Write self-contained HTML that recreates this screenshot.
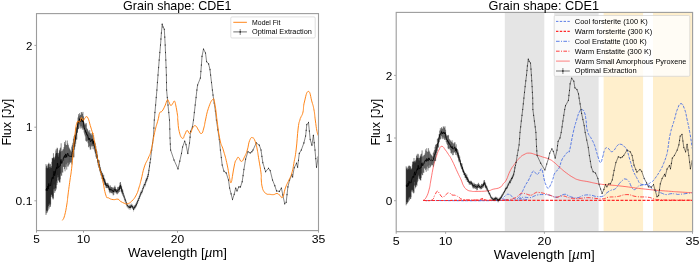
<!DOCTYPE html>
<html><head><meta charset="utf-8"><title>Grain shape: CDE1</title>
<style>html,body{margin:0;padding:0;background:#fff}body{width:700px;height:262px;overflow:hidden;font-family:"Liberation Sans",sans-serif}svg{display:block;will-change:transform;transform:translateZ(0)}</style>
</head><body>
<svg width="700" height="262" viewBox="0 0 700 262" font-family="Liberation Sans, sans-serif" fill="#000">
<rect width="700" height="262" fill="#fff"/>
<defs><clipPath id="cl"><rect x="36.5" y="13.6" width="282" height="217"/></clipPath><clipPath id="cr"><rect x="396.2" y="12.4" width="296.4" height="219.3"/></clipPath></defs>
<rect x="504.8" y="12.4" width="39.5" height="219.3" fill="#e5e5e5"/>
<rect x="554.2" y="12.4" width="44.4" height="219.3" fill="#e5e5e5"/>
<rect x="603.6" y="12.4" width="39.5" height="219.3" fill="#ffefcc"/>
<rect x="653.0" y="12.4" width="39.5" height="219.3" fill="#ffefcc"/>
<g clip-path="url(#cl)">
<path d="M46.00 164.1V215.0M46.31 167.8V213.3M46.62 165.6V210.6M46.93 166.3V210.8M47.24 168.7V212.7M47.55 167.9V211.4M47.86 164.5V207.5M48.17 167.7V210.3M48.48 164.0V206.0M48.79 162.7V204.2M49.10 163.7V208.7M49.41 166.9V204.8M49.72 168.7V203.2M50.03 164.5V207.0M50.34 163.9V206.6M50.65 166.9V204.5M50.96 168.1V197.1M51.27 168.0V195.3M51.58 166.2V194.3M51.89 161.8V195.1M52.20 157.9V197.1M52.51 158.3V198.4M52.82 158.8V196.1M53.13 157.8V199.5M53.44 153.2V198.4M53.75 157.0V189.4M54.06 158.0V184.5M54.37 159.8V188.8M54.68 158.5V192.9M54.99 156.9V190.8M55.30 155.7V191.2M55.61 153.6V188.2M55.92 150.5V188.1M56.23 148.9V189.5M56.54 152.8V181.4M56.85 153.0V185.0M57.16 147.7V183.1M57.47 148.4V177.5M57.78 153.3V175.2M58.09 155.4V180.1M58.40 156.9V177.2M58.71 152.9V180.9M59.02 153.4V179.8M59.33 150.1V182.4M59.64 151.3V181.8M59.95 148.5V182.6M60.26 151.7V179.3M60.57 147.6V173.6M61.13 143.3V175.6M61.69 151.2V175.7M62.25 150.9V172.4M62.81 149.5V172.6M63.37 149.2V166.8M63.93 147.2V167.0M64.49 142.1V169.1M65.05 144.2V171.3M65.61 140.5V167.2M66.17 145.1V164.4M66.73 145.0V169.6M67.29 140.5V166.6M67.85 143.5V162.8M68.41 145.2V166.5M68.97 147.4V165.1M69.53 148.5V163.8M70.09 149.5V162.0M70.65 150.5V162.8M71.21 151.5V162.4M71.77 146.6V164.5M72.33 144.8V160.2M72.89 142.8V157.5M73.45 138.7V157.1M74.01 136.3V157.3M74.57 134.9V149.7M75.13 134.8V146.5M75.69 128.4V143.8M76.25 127.5V139.6M76.81 126.6V139.5M77.37 122.0V132.5M77.93 117.5V129.0M78.49 114.2V129.2M79.05 116.2V128.3M79.61 113.1V124.4M80.17 114.6V126.5M80.73 115.1V128.6M81.29 112.0V126.4M81.85 112.4V128.2M82.41 113.8V129.7M82.97 111.9V127.5M83.53 116.3V129.6M84.09 122.4V132.5M84.65 124.5V134.5M85.21 123.4V136.4M85.77 124.5V140.7M86.33 123.1V141.2M86.89 128.2V141.9M87.45 129.0V140.7M88.01 130.2V143.3M88.57 131.4V146.9M89.13 132.5V147.5M89.69 130.2V145.9M90.25 133.2V149.6M90.81 133.9V149.4M91.37 135.2V146.5M91.93 133.1V145.4M92.49 132.8V146.3M93.05 138.2V149.1M93.61 135.3V146.2M94.17 141.4V149.6M94.73 141.6V151.5M95.29 143.3V153.4M95.85 146.1V156.7M96.41 149.5V158.9M96.97 151.3V158.0M97.53 156.4V161.3M98.09 159.7V165.3M98.65 160.2V167.5M99.21 160.4V168.2M99.77 165.4V171.4M100.33 167.3V172.5M100.89 169.6V175.4M101.45 171.1V175.8M102.01 172.7V179.1M102.57 172.9V179.2M103.13 175.2V182.4M103.69 174.7V181.1M104.25 178.5V184.6M104.81 179.0V184.8M105.37 180.5V185.3M105.93 183.5V187.8M106.49 182.9V187.8M107.05 183.4V188.2M107.61 182.8V188.1M108.17 183.5V187.8M108.73 184.8V189.9M109.29 185.8V191.9M109.85 187.4V193.3M110.41 185.4V192.3M110.97 186.8V192.8M111.53 187.1V192.9M112.09 187.3V193.5M112.65 187.5V193.3M113.21 188.5V195.4M113.77 187.5V194.9M114.33 186.8V192.5M114.89 185.6V192.2M115.45 187.2V192.2M116.01 189.2V193.3M116.57 189.3V193.4M117.13 188.9V194.4M117.69 187.2V193.7M118.25 186.7V193.1M118.81 187.2V192.1M119.37 187.5V191.9M119.93 182.6V188.7M120.49 182.0V189.0M121.05 184.5V191.6M121.61 186.3V192.6M122.17 188.8V194.1M122.73 189.7V195.6" stroke="#000" stroke-opacity=".9" stroke-width=".52" fill="none"/>
<path d="M46.0 189.6 L46.3 190.5 L46.6 188.1 L46.9 188.6 L47.2 190.7 L47.6 189.7 L47.9 186.0 L48.2 189.0 L48.5 185.0 L48.8 183.5 L49.1 186.2 L49.4 185.9 L49.7 186.0 L50.0 185.7 L50.3 185.3 L50.7 185.7 L51.0 182.6 L51.3 181.6 L51.6 180.2 L51.9 178.4 L52.2 177.5 L52.5 178.3 L52.8 177.5 L53.1 178.6 L53.4 175.8 L53.8 173.2 L54.1 171.2 L54.4 174.3 L54.7 175.7 L55.0 173.9 L55.3 173.5 L55.6 170.9 L55.9 169.3 L56.2 169.2 L56.5 167.1 L56.9 169.0 L57.2 165.4 L57.5 163.0 L57.8 164.3 L58.1 167.7 L58.4 167.0 L58.7 166.9 L59.0 166.6 L59.3 166.3 L59.6 166.5 L60.0 165.5 L60.3 165.5 L60.6 160.6 L61.1 159.5 L61.7 163.5 L62.3 161.6 L62.8 161.1 L63.4 158.0 L63.9 157.1 L64.5 155.6 L65.1 157.8 L65.6 153.9 L66.2 154.8 L66.7 157.3 L67.3 153.6 L67.9 153.2 L68.4 155.8 L69.0 156.2 L69.5 156.2 L70.1 155.8 L70.7 156.6 L71.2 157.0 L71.8 155.5 L72.3 152.5 L72.9 150.2 L73.5 147.9 L74.0 146.8 L74.6 142.3 L75.1 140.7 L75.7 136.1 L76.3 133.6 L76.8 133.0 L77.4 127.3 L77.9 123.2 L78.5 121.7 L79.1 122.3 L79.6 118.7 L80.2 120.6 L80.7 121.8 L81.3 119.2 L81.9 120.3 L82.4 121.8 L83.0 119.7 L83.5 123.0 L84.1 127.4 L84.7 129.5 L85.2 129.9 L85.8 132.6 L86.3 132.2 L86.9 135.1 L87.5 134.9 L88.0 136.7 L88.6 139.1 L89.1 140.0 L89.7 138.1 L90.3 141.4 L90.8 141.7 L91.4 140.8 L91.9 139.2 L92.5 139.5 L93.1 143.7 L93.6 140.8 L94.2 145.5 L94.7 146.6 L95.3 148.3 L95.9 151.4 L96.4 154.2 L97.0 154.6 L97.5 158.9 L98.1 162.5 L98.7 163.8 L99.2 164.3 L99.8 168.4 L100.3 169.9 L100.9 172.5 L101.5 173.4 L102.0 175.9 L102.6 176.1 L103.1 178.8 L103.7 177.9 L104.3 181.6 L104.8 181.9 L105.4 182.9 L105.9 185.6 L106.5 185.4 L107.1 185.8 L107.6 185.5 L108.2 185.7 L108.7 187.3 L109.3 188.8 L109.9 190.4 L110.4 188.9 L111.0 189.8 L111.5 190.0 L112.1 190.4 L112.7 190.4 L113.2 192.0 L113.8 191.2 L114.3 189.7 L114.9 188.9 L115.5 189.7 L116.0 191.3 L116.6 191.4 L117.1 191.6 L117.7 190.5 L118.3 189.9 L118.8 189.6 L119.4 189.7 L119.9 185.6 L120.5 185.5 L121.1 188.0 L121.6 189.4 L122.2 191.5 L122.7 192.6" stroke="#000" stroke-width=".9" fill="none" stroke-linejoin="round"/>
<path d="M123.2 193.5 L123.8 196.1 L124.3 197.0 L124.9 199.8 L125.5 200.0 L126.2 202.7 L126.8 205.0 L127.5 205.6 L128.2 206.5 L128.8 207.1 L129.5 207.5 L130.0 206.2 L130.5 207.6 L131.0 205.8 L131.5 205.8 L132.0 206.5 L132.5 206.8 L133.0 207.2 L133.5 209.4 L134.0 208.0 L134.5 207.2 L135.0 207.1 L135.5 206.0 L136.0 205.2 L136.5 204.5 L137.0 203.1 L137.5 201.7 L138.2 200.4 L138.9 198.5 L139.6 196.8 L140.3 194.9 L140.9 192.9 L141.6 192.5 L142.2 191.2 L142.9 188.5 L143.6 187.3 L144.3 184.5 L145.0 184.9 L145.7 182.2 L146.2 180.0 L146.7 179.7 L147.2 178.5 L147.8 176.4 L148.3 174.4 L148.9 170.6 L149.5 166.1 L150.0 162.7 L150.6 159.0 L151.7 150.0 L153.5 136.0 L154.3 120.0 L155.6 105.0 L156.9 90.0 L158.0 75.0 L159.2 60.0 L160.5 45.0 L161.4 33.0 L162.2 24.2 L163.0 27.0 L164.3 29.3 L165.2 45.0 L165.8 60.0 L166.4 75.0 L166.6 90.0 L168.0 105.0 L169.5 120.0 L170.0 138.0 L170.6 150.0 L174.0 160.0 L178.0 168.9 L181.5 153.4 L182.6 147.0 L184.7 141.2 L186.0 144.6 L187.8 153.4 L189.5 143.0 L190.6 131.4 L192.4 127.0 L193.5 120.0 L195.2 105.0 L196.9 90.0 L197.6 85.0 L200.4 78.0 L201.4 65.0 L202.0 56.4 L203.5 49.0 L205.5 53.0 L206.6 61.6 L208.6 63.9 L210.0 69.6 L210.6 75.0 L212.4 90.0 L213.0 95.0 L215.4 111.0 L216.4 120.0 L219.3 139.5 L220.4 150.0 L222.2 165.0 L223.9 171.2 L226.2 172.9 L228.5 180.0 L229.6 188.0 L232.5 199.5 L234.2 194.3 L235.7 188.0 L237.0 190.9 L238.8 186.9 L240.5 186.9 L242.2 181.7 L243.9 169.5 L245.6 159.2 L247.9 151.7 L250.2 152.9 L251.9 151.7 L253.0 150.0 L256.3 142.9 L259.3 145.2 L261.0 150.0 L262.8 162.6 L264.5 168.3 L265.6 171.7 L268.5 168.3 L270.2 170.6 L272.5 180.0 L274.8 185.7 L276.5 190.9 L279.4 191.4 L281.4 188.0 L282.8 194.9 L284.7 203.8 L286.2 202.3 L287.9 186.9 L289.6 180.0 L291.9 174.6 L292.6 177.0 L294.2 167.7 L296.5 163.2 L297.6 167.2 L299.3 153.4 L301.3 150.0 L303.9 142.9 L305.6 136.0 L306.8 124.6 L308.5 122.5 L310.2 139.5 L311.9 145.2 L313.4 135.4 L315.0 150.0 L316.5 167.2 L318.2 156.9" stroke="#222" stroke-width=".55" fill="none" stroke-linejoin="round"/>
<path d="M123.2 191.3V195.7M123.8 193.9V198.3M124.3 194.8V199.2M124.9 197.6V202.0M125.5 197.8V202.2M126.2 200.5V204.9M126.8 202.8V207.2M127.5 203.4V207.8M128.2 204.3V208.7M128.8 204.9V209.3M129.5 205.3V209.7M130.0 204.0V208.4M130.5 205.4V209.8M131.0 203.6V208.0M131.5 203.6V208.0M132.0 204.3V208.7M132.5 204.6V209.0M133.0 205.0V209.4M133.5 207.2V211.6M134.0 205.8V210.2M134.5 205.0V209.4M135.0 204.9V209.3M135.5 203.8V208.2M136.0 203.0V207.4M136.5 202.3V206.7M137.0 200.9V205.3M137.5 199.5V203.9M138.2 198.2V202.6M138.9 196.3V200.7M139.6 194.6V199.0M140.3 192.7V197.1M140.9 190.7V195.1M141.6 190.3V194.7M142.2 189.0V193.4M142.9 186.3V190.7M143.6 185.1V189.5M144.3 182.3V186.7M145.0 182.7V187.1M145.7 180.0V184.4M146.2 177.8V182.2M146.7 177.5V181.9M147.2 176.3V180.7M147.8 174.2V178.6M148.3 172.2V176.6M148.9 168.4V172.8M149.5 163.9V168.3M150.0 161.8V163.6M150.6 158.1V159.9M151.7 149.1V150.9M152.6 142.1V143.9M153.5 135.1V136.9M153.9 127.1V128.9M154.3 119.1V120.9M154.9 111.6V113.4M155.6 104.1V105.9M156.2 96.6V98.4M156.9 89.1V90.9M157.4 81.6V83.4M158.0 74.1V75.9M158.6 66.6V68.4M159.2 59.1V60.9M159.8 51.6V53.4M160.5 44.1V45.9M160.9 38.1V39.9M161.4 32.1V33.9M162.2 23.3V25.1M163.0 26.1V27.9M164.3 28.4V30.2M164.8 36.2V38.0M165.2 44.1V45.9M165.5 51.6V53.4M165.8 59.1V60.9M166.1 66.6V68.4M166.4 74.1V75.9M166.5 81.6V83.4M166.6 89.1V90.9M167.3 96.6V98.4M168.0 104.1V105.9M168.8 111.6V113.4M169.5 119.1V120.9M169.8 128.1V129.9M170.0 137.1V138.9M170.3 143.1V144.9M170.6 149.1V150.9M174.0 159.1V160.9M178.0 168.0V169.8M179.8 160.2V162.1M181.5 152.5V154.3M182.6 146.1V147.9M184.7 140.3V142.1M186.0 143.7V145.5M187.8 152.5V154.3M189.5 142.1V143.9M190.1 136.3V138.1M190.6 130.5V132.3M192.4 126.1V127.9M193.5 119.1V120.9M194.3 111.6V113.4M195.2 104.1V105.9M196.1 96.6V98.4M196.9 89.1V90.9M197.6 84.1V85.9M200.4 77.1V78.9M200.9 70.6V72.4M201.4 64.1V65.9M202.0 55.5V57.3M203.5 48.1V49.9M205.5 52.1V53.9M206.6 60.7V62.5M208.6 63.0V64.8M210.0 68.7V70.5M210.6 74.1V75.9M211.5 81.6V83.4M212.4 89.1V90.9M213.0 94.1V95.9M214.2 102.1V103.9M215.4 110.1V111.9M216.4 119.1V120.9M217.9 128.8V130.7M219.3 138.6V140.4M220.4 149.1V150.9M221.3 156.6V158.4M222.2 164.1V165.9M223.9 170.3V172.1M226.2 172.0V173.8M228.5 179.1V180.9M229.6 187.1V188.9M231.1 192.8V194.7M232.5 198.6V200.4M234.2 193.4V195.2M235.7 187.1V188.9M237.0 190.0V191.8M238.8 186.0V187.8M240.5 186.0V187.8M242.2 180.8V182.6M243.1 174.7V176.5M243.9 168.6V170.4M245.6 158.3V160.1M247.9 150.8V152.6M250.2 152.0V153.8M251.9 150.8V152.6M253.0 149.1V150.9M256.3 142.0V143.8M259.3 144.3V146.1M261.0 149.1V150.9M261.9 155.4V157.2M262.8 161.7V163.5M264.5 167.4V169.2M265.6 170.8V172.6M268.5 167.4V169.2M270.2 169.7V171.5M272.5 179.1V180.9M274.8 184.8V186.6M276.5 190.0V191.8M279.4 190.5V192.3M281.4 187.1V188.9M282.8 194.0V195.8M284.7 202.9V204.7M286.2 201.4V203.2M287.0 193.7V195.5M287.9 186.0V187.8M289.6 179.1V180.9M291.9 173.7V175.5M292.6 176.1V177.9M294.2 166.8V168.6M296.5 162.3V164.1M297.6 166.3V168.1M298.5 159.4V161.2M299.3 152.5V154.3M301.3 149.1V150.9M303.9 142.0V143.8M305.6 135.1V136.9M306.2 129.4V131.2M306.8 123.7V125.5M308.5 121.6V123.4M309.4 130.1V131.9M310.2 138.6V140.4M311.9 144.3V146.1M313.4 134.5V136.3M314.2 141.8V143.6M315.0 149.1V150.9M315.8 157.7V159.5M316.5 166.3V168.1M318.2 156.0V157.8" stroke="#000" stroke-opacity=".5" stroke-width=".45" fill="none"/>
<g fill="#000" fill-opacity=".65"><circle cx="123.2" cy="193.5" r=".58"/><circle cx="123.8" cy="196.1" r=".58"/><circle cx="124.3" cy="197.0" r=".58"/><circle cx="124.9" cy="199.8" r=".58"/><circle cx="125.5" cy="200.0" r=".58"/><circle cx="126.2" cy="202.7" r=".58"/><circle cx="126.8" cy="205.0" r=".58"/><circle cx="127.5" cy="205.6" r=".58"/><circle cx="128.2" cy="206.5" r=".58"/><circle cx="128.8" cy="207.1" r=".58"/><circle cx="129.5" cy="207.5" r=".58"/><circle cx="130.0" cy="206.2" r=".58"/><circle cx="130.5" cy="207.6" r=".58"/><circle cx="131.0" cy="205.8" r=".58"/><circle cx="131.5" cy="205.8" r=".58"/><circle cx="132.0" cy="206.5" r=".58"/><circle cx="132.5" cy="206.8" r=".58"/><circle cx="133.0" cy="207.2" r=".58"/><circle cx="133.5" cy="209.4" r=".58"/><circle cx="134.0" cy="208.0" r=".58"/><circle cx="134.5" cy="207.2" r=".58"/><circle cx="135.0" cy="207.1" r=".58"/><circle cx="135.5" cy="206.0" r=".58"/><circle cx="136.0" cy="205.2" r=".58"/><circle cx="136.5" cy="204.5" r=".58"/><circle cx="137.0" cy="203.1" r=".58"/><circle cx="137.5" cy="201.7" r=".58"/><circle cx="138.2" cy="200.4" r=".58"/><circle cx="138.9" cy="198.5" r=".58"/><circle cx="139.6" cy="196.8" r=".58"/><circle cx="140.3" cy="194.9" r=".58"/><circle cx="140.9" cy="192.9" r=".58"/><circle cx="141.6" cy="192.5" r=".58"/><circle cx="142.2" cy="191.2" r=".58"/><circle cx="142.9" cy="188.5" r=".58"/><circle cx="143.6" cy="187.3" r=".58"/><circle cx="144.3" cy="184.5" r=".58"/><circle cx="145.0" cy="184.9" r=".58"/><circle cx="145.7" cy="182.2" r=".58"/><circle cx="146.2" cy="180.0" r=".58"/><circle cx="146.7" cy="179.7" r=".58"/><circle cx="147.2" cy="178.5" r=".58"/><circle cx="147.8" cy="176.4" r=".58"/><circle cx="148.3" cy="174.4" r=".58"/><circle cx="148.9" cy="170.6" r=".58"/><circle cx="149.5" cy="166.1" r=".58"/><circle cx="150.0" cy="162.7" r=".58"/><circle cx="150.6" cy="159.0" r=".58"/><circle cx="151.7" cy="150.0" r=".58"/><circle cx="152.6" cy="143.0" r=".58"/><circle cx="153.5" cy="136.0" r=".58"/><circle cx="153.9" cy="128.0" r=".58"/><circle cx="154.3" cy="120.0" r=".58"/><circle cx="154.9" cy="112.5" r=".58"/><circle cx="155.6" cy="105.0" r=".58"/><circle cx="156.2" cy="97.5" r=".58"/><circle cx="156.9" cy="90.0" r=".58"/><circle cx="157.4" cy="82.5" r=".58"/><circle cx="158.0" cy="75.0" r=".58"/><circle cx="158.6" cy="67.5" r=".58"/><circle cx="159.2" cy="60.0" r=".58"/><circle cx="159.8" cy="52.5" r=".58"/><circle cx="160.5" cy="45.0" r=".58"/><circle cx="160.9" cy="39.0" r=".58"/><circle cx="161.4" cy="33.0" r=".58"/><circle cx="162.2" cy="24.2" r=".58"/><circle cx="163.0" cy="27.0" r=".58"/><circle cx="164.3" cy="29.3" r=".58"/><circle cx="164.8" cy="37.1" r=".58"/><circle cx="165.2" cy="45.0" r=".58"/><circle cx="165.5" cy="52.5" r=".58"/><circle cx="165.8" cy="60.0" r=".58"/><circle cx="166.1" cy="67.5" r=".58"/><circle cx="166.4" cy="75.0" r=".58"/><circle cx="166.5" cy="82.5" r=".58"/><circle cx="166.6" cy="90.0" r=".58"/><circle cx="167.3" cy="97.5" r=".58"/><circle cx="168.0" cy="105.0" r=".58"/><circle cx="168.8" cy="112.5" r=".58"/><circle cx="169.5" cy="120.0" r=".58"/><circle cx="169.8" cy="129.0" r=".58"/><circle cx="170.0" cy="138.0" r=".58"/><circle cx="170.3" cy="144.0" r=".58"/><circle cx="170.6" cy="150.0" r=".58"/><circle cx="174.0" cy="160.0" r=".58"/><circle cx="178.0" cy="168.9" r=".58"/><circle cx="179.8" cy="161.2" r=".58"/><circle cx="181.5" cy="153.4" r=".58"/><circle cx="182.6" cy="147.0" r=".58"/><circle cx="184.7" cy="141.2" r=".58"/><circle cx="186.0" cy="144.6" r=".58"/><circle cx="187.8" cy="153.4" r=".58"/><circle cx="189.5" cy="143.0" r=".58"/><circle cx="190.1" cy="137.2" r=".58"/><circle cx="190.6" cy="131.4" r=".58"/><circle cx="192.4" cy="127.0" r=".58"/><circle cx="193.5" cy="120.0" r=".58"/><circle cx="194.3" cy="112.5" r=".58"/><circle cx="195.2" cy="105.0" r=".58"/><circle cx="196.1" cy="97.5" r=".58"/><circle cx="196.9" cy="90.0" r=".58"/><circle cx="197.6" cy="85.0" r=".58"/><circle cx="200.4" cy="78.0" r=".58"/><circle cx="200.9" cy="71.5" r=".58"/><circle cx="201.4" cy="65.0" r=".58"/><circle cx="202.0" cy="56.4" r=".58"/><circle cx="203.5" cy="49.0" r=".58"/><circle cx="205.5" cy="53.0" r=".58"/><circle cx="206.6" cy="61.6" r=".58"/><circle cx="208.6" cy="63.9" r=".58"/><circle cx="210.0" cy="69.6" r=".58"/><circle cx="210.6" cy="75.0" r=".58"/><circle cx="211.5" cy="82.5" r=".58"/><circle cx="212.4" cy="90.0" r=".58"/><circle cx="213.0" cy="95.0" r=".58"/><circle cx="214.2" cy="103.0" r=".58"/><circle cx="215.4" cy="111.0" r=".58"/><circle cx="216.4" cy="120.0" r=".58"/><circle cx="217.9" cy="129.8" r=".58"/><circle cx="219.3" cy="139.5" r=".58"/><circle cx="220.4" cy="150.0" r=".58"/><circle cx="221.3" cy="157.5" r=".58"/><circle cx="222.2" cy="165.0" r=".58"/><circle cx="223.9" cy="171.2" r=".58"/><circle cx="226.2" cy="172.9" r=".58"/><circle cx="228.5" cy="180.0" r=".58"/><circle cx="229.6" cy="188.0" r=".58"/><circle cx="231.1" cy="193.8" r=".58"/><circle cx="232.5" cy="199.5" r=".58"/><circle cx="234.2" cy="194.3" r=".58"/><circle cx="235.7" cy="188.0" r=".58"/><circle cx="237.0" cy="190.9" r=".58"/><circle cx="238.8" cy="186.9" r=".58"/><circle cx="240.5" cy="186.9" r=".58"/><circle cx="242.2" cy="181.7" r=".58"/><circle cx="243.1" cy="175.6" r=".58"/><circle cx="243.9" cy="169.5" r=".58"/><circle cx="245.6" cy="159.2" r=".58"/><circle cx="247.9" cy="151.7" r=".58"/><circle cx="250.2" cy="152.9" r=".58"/><circle cx="251.9" cy="151.7" r=".58"/><circle cx="253.0" cy="150.0" r=".58"/><circle cx="256.3" cy="142.9" r=".58"/><circle cx="259.3" cy="145.2" r=".58"/><circle cx="261.0" cy="150.0" r=".58"/><circle cx="261.9" cy="156.3" r=".58"/><circle cx="262.8" cy="162.6" r=".58"/><circle cx="264.5" cy="168.3" r=".58"/><circle cx="265.6" cy="171.7" r=".58"/><circle cx="268.5" cy="168.3" r=".58"/><circle cx="270.2" cy="170.6" r=".58"/><circle cx="272.5" cy="180.0" r=".58"/><circle cx="274.8" cy="185.7" r=".58"/><circle cx="276.5" cy="190.9" r=".58"/><circle cx="279.4" cy="191.4" r=".58"/><circle cx="281.4" cy="188.0" r=".58"/><circle cx="282.8" cy="194.9" r=".58"/><circle cx="284.7" cy="203.8" r=".58"/><circle cx="286.2" cy="202.3" r=".58"/><circle cx="287.0" cy="194.6" r=".58"/><circle cx="287.9" cy="186.9" r=".58"/><circle cx="289.6" cy="180.0" r=".58"/><circle cx="291.9" cy="174.6" r=".58"/><circle cx="292.6" cy="177.0" r=".58"/><circle cx="294.2" cy="167.7" r=".58"/><circle cx="296.5" cy="163.2" r=".58"/><circle cx="297.6" cy="167.2" r=".58"/><circle cx="298.5" cy="160.3" r=".58"/><circle cx="299.3" cy="153.4" r=".58"/><circle cx="301.3" cy="150.0" r=".58"/><circle cx="303.9" cy="142.9" r=".58"/><circle cx="305.6" cy="136.0" r=".58"/><circle cx="306.2" cy="130.3" r=".58"/><circle cx="306.8" cy="124.6" r=".58"/><circle cx="308.5" cy="122.5" r=".58"/><circle cx="309.4" cy="131.0" r=".58"/><circle cx="310.2" cy="139.5" r=".58"/><circle cx="311.9" cy="145.2" r=".58"/><circle cx="313.4" cy="135.4" r=".58"/><circle cx="314.2" cy="142.7" r=".58"/><circle cx="315.0" cy="150.0" r=".58"/><circle cx="315.8" cy="158.6" r=".58"/><circle cx="316.5" cy="167.2" r=".58"/><circle cx="318.2" cy="156.9" r=".58"/></g>
<path d="M62.3 220.4C62.9 219.1 63.4 220.0 64.6 215.6C65.8 211.2 66.0 209.5 66.9 204.0C67.8 198.5 67.2 201.4 68.0 195.0C68.8 188.6 68.9 188.0 70.0 180.0C71.1 172.0 70.7 177.0 72.0 165.0C73.3 153.0 73.5 146.4 74.9 135.0C76.3 123.6 76.0 125.6 77.2 122.2C78.4 118.8 78.4 123.4 79.5 122.2C80.6 121.0 80.4 118.1 81.4 117.6C82.4 117.1 82.0 120.6 83.2 120.4C84.4 120.2 84.5 117.6 85.8 117.0C87.1 116.4 86.8 115.9 88.0 118.2C89.2 120.5 89.1 121.7 90.3 125.6C91.5 129.5 91.8 130.5 92.6 133.0C93.4 135.5 92.3 130.5 93.2 135.0C94.1 139.5 94.5 142.0 96.0 150.0C97.5 158.0 97.2 157.3 98.9 165.0C100.6 172.7 100.6 170.7 102.4 178.7C104.2 186.7 104.1 189.9 105.8 195.0C107.5 200.1 106.6 196.7 108.6 197.9C110.6 199.1 110.7 199.3 113.2 199.6C115.7 199.9 116.1 198.8 118.0 199.2C119.9 199.6 118.5 200.1 120.3 201.2C122.1 202.3 123.1 202.8 124.9 203.5C126.7 204.2 125.4 204.4 127.2 203.8C129.0 203.2 129.3 203.6 131.7 201.2C134.1 198.8 134.3 198.7 136.3 194.9C138.3 191.1 137.9 190.9 139.2 186.9C140.5 182.9 139.7 185.3 141.1 180.0C142.5 174.7 142.4 172.9 144.3 167.0C146.2 161.1 146.5 162.5 148.3 158.0C150.1 153.5 149.5 156.8 151.2 150.0C152.9 143.2 152.8 140.6 154.6 132.6C156.4 124.6 156.6 125.3 158.0 120.0C159.4 114.7 158.6 115.2 159.7 112.9C160.8 110.6 160.6 113.0 162.0 111.2C163.4 109.4 163.5 109.0 164.9 106.0C166.3 103.0 166.3 101.1 167.4 100.0C168.5 98.9 168.0 100.6 168.9 102.0C169.8 103.4 169.7 105.1 170.8 105.4C171.9 105.7 171.9 104.3 172.9 103.2C173.9 102.1 173.7 100.6 174.4 101.1C175.1 101.6 174.9 101.1 175.7 104.9C176.5 108.7 176.9 111.2 177.5 115.2C178.1 119.2 177.3 115.7 177.8 120.0C178.3 124.3 178.0 126.5 179.2 131.4C180.4 136.3 180.9 137.5 182.4 138.3C183.9 139.1 183.6 136.4 184.9 134.3C186.2 132.2 185.8 130.7 187.2 130.5C188.6 130.3 188.5 134.3 190.0 133.5C191.5 132.7 191.5 129.4 193.0 127.4C194.5 125.4 194.3 125.2 195.8 126.0C197.3 126.8 197.1 128.3 198.6 130.3C200.1 132.3 200.1 134.1 201.5 133.5C202.9 132.9 202.7 131.6 203.8 128.0C204.9 124.4 204.3 125.3 205.5 120.0C206.7 114.7 206.5 113.8 208.4 108.3C210.3 102.8 211.0 100.9 212.7 99.4C214.4 97.9 213.6 98.4 214.6 102.6C215.6 106.8 215.8 110.4 216.4 115.0C217.0 119.6 216.1 113.5 217.0 120.0C217.9 126.5 218.2 131.5 219.9 139.5C221.6 147.5 221.5 143.8 223.3 150.0C225.1 156.2 225.1 155.5 226.7 162.6C228.3 169.7 228.4 171.5 229.3 176.5C230.2 181.5 229.8 179.6 230.2 181.2C230.6 182.8 230.5 182.6 230.9 182.6C231.3 182.6 231.2 182.8 231.6 181.2C232.0 179.6 231.6 181.2 232.4 176.5C233.2 171.8 233.6 168.2 234.7 163.7C235.8 159.2 235.5 161.4 236.5 159.7C237.5 158.0 237.2 156.9 238.5 157.4C239.8 157.9 239.8 161.5 241.4 161.4C243.0 161.3 242.9 159.9 244.5 156.9C246.1 153.9 245.9 154.3 247.3 150.0C248.7 145.7 248.2 143.9 249.6 140.6C251.0 137.3 251.0 137.4 252.5 137.7C254.0 138.0 254.0 138.4 255.3 141.7C256.6 145.0 256.4 145.3 257.3 150.0C258.2 154.7 257.8 153.1 258.8 159.2C259.8 165.3 260.3 167.4 261.0 172.9C261.7 178.4 261.0 176.3 261.3 180.0C261.6 183.7 261.5 183.9 262.2 186.9C262.9 189.9 262.7 189.5 263.9 191.4C265.1 193.3 265.3 193.2 266.8 194.0C268.3 194.8 267.8 194.1 269.6 194.3C271.4 194.5 271.6 194.8 273.6 194.6C275.6 194.4 275.3 193.3 277.0 193.5C278.7 193.7 278.4 194.4 279.9 195.4C281.4 196.4 281.3 198.9 282.7 197.2C284.1 195.5 283.8 192.9 285.0 189.2C286.2 185.5 286.2 185.9 287.3 183.4C288.4 180.9 287.8 182.8 289.0 180.0C290.2 177.2 290.5 177.9 291.9 172.9C293.3 167.9 293.1 167.5 294.2 161.4C295.3 155.3 295.0 158.9 296.1 150.0C297.2 141.1 297.2 136.0 298.2 128.0C299.2 120.0 299.2 122.9 299.9 120.0C300.6 117.1 300.2 119.1 301.0 117.0C301.8 114.9 302.1 116.0 303.0 112.0C303.9 108.0 303.0 107.5 304.4 102.0C305.8 96.5 306.4 91.4 308.4 91.4C310.4 91.4 310.5 97.0 312.0 102.0C313.5 107.0 313.1 105.2 314.0 110.0C314.9 114.8 314.5 114.3 315.3 120.0C316.1 125.7 316.1 127.1 317.0 131.4C317.9 135.7 318.1 134.8 318.5 136.0" stroke="#ff7f0e" stroke-width=".95" fill="none" stroke-linejoin="round"/>
</g>
<g clip-path="url(#cr)">
<path d="M423.2 200.5C443.1 200.5 476.9 201.0 498.0 200.4C519.1 199.8 500.2 199.6 502.3 198.3C504.4 197.0 504.0 196.5 505.7 195.4C507.4 194.3 507.1 194.1 508.6 194.3C510.1 194.5 510.1 194.9 511.5 196.0C512.9 197.1 512.6 197.5 513.8 198.3C515.0 199.1 514.6 199.2 516.0 198.9C517.4 198.6 517.4 198.9 518.9 197.2C520.4 195.5 520.1 195.7 521.8 192.6C523.5 189.5 523.4 189.1 525.2 185.7C527.0 182.3 527.1 182.8 528.6 180.0C530.1 177.2 529.7 177.5 530.9 175.2C532.1 172.9 532.0 171.8 533.2 171.2C534.4 170.6 534.4 172.0 535.5 172.9C536.6 173.8 536.1 174.9 537.2 174.6C538.3 174.3 538.4 173.2 539.5 171.7C540.6 170.2 540.5 168.6 541.4 168.9C542.3 169.2 542.1 169.9 542.9 172.9C543.7 175.9 543.5 176.8 544.3 180.0C545.1 183.2 545.0 182.8 546.0 185.0C547.0 187.2 547.0 188.2 548.2 188.2C549.4 188.2 549.3 187.2 550.5 185.0C551.7 182.8 551.4 183.2 552.6 180.0C553.8 176.8 553.2 176.0 554.9 172.9C556.6 169.8 557.1 171.7 558.9 168.3C560.7 164.9 560.2 163.7 561.7 160.3C563.2 156.9 562.8 158.2 564.6 155.7C566.4 153.2 567.2 152.6 568.6 151.1C570.0 149.6 568.5 154.9 569.7 150.0C570.9 145.1 571.4 140.6 573.2 132.6C575.0 124.6 574.9 125.6 576.6 120.0C578.3 114.4 578.0 114.4 579.5 111.7C581.0 109.0 580.7 109.4 582.1 109.7C583.5 110.0 583.6 110.2 584.6 112.9C585.6 115.6 585.2 115.1 586.0 120.0C586.8 124.9 586.0 126.4 587.5 131.4C589.0 136.4 589.7 135.4 591.5 138.9C593.3 142.4 593.1 141.6 594.3 144.6C595.5 147.6 594.9 146.4 596.0 150.0C597.1 153.6 597.2 154.7 598.4 158.0C599.6 161.3 599.5 162.7 600.6 162.4C601.7 162.1 601.6 160.2 602.7 156.9C603.8 153.6 603.4 152.5 604.6 150.0C605.8 147.5 605.7 147.7 607.1 147.7C608.5 147.7 608.6 148.9 609.7 150.0C610.8 151.1 610.2 151.7 611.4 151.7C612.6 151.7 612.8 151.6 614.3 150.0C615.8 148.4 615.5 147.2 617.2 145.7C618.9 144.2 618.8 144.0 620.8 144.3C622.8 144.6 623.0 145.4 624.6 146.9C626.2 148.4 625.5 146.7 626.9 150.0C628.3 153.3 628.0 153.7 629.7 159.2C631.4 164.7 631.4 165.7 633.2 170.6C635.0 175.5 635.3 175.0 636.6 177.5C637.9 180.0 637.2 178.6 638.0 180.0C638.8 181.4 638.2 181.7 639.5 182.9C640.8 184.1 640.6 184.3 642.9 184.6C645.2 184.9 645.7 184.8 648.0 184.0C650.3 183.2 650.0 182.8 651.5 181.7C653.0 180.6 651.7 182.7 653.8 180.0C655.9 177.3 656.9 176.0 659.5 171.7C662.1 167.4 661.7 168.0 663.5 163.7C665.3 159.4 665.3 159.4 666.4 155.7C667.5 152.0 666.7 155.9 667.7 150.0C668.7 144.1 668.5 141.7 670.3 133.7C672.1 125.7 672.4 126.6 674.3 120.0C676.2 113.4 675.7 113.3 677.5 109.0C679.3 104.7 679.1 103.7 681.0 103.7C682.9 103.7 682.8 104.7 684.5 109.0C686.2 113.3 685.8 113.7 687.2 120.0C688.6 126.3 688.5 125.6 689.8 132.6C691.1 139.6 691.3 141.7 692.0 146.3C692.7 150.9 692.4 149.0 692.5 150.0" stroke="#4a6fe3" stroke-width=".9" fill="none" stroke-dasharray="2.9 1.3" stroke-linejoin="round"/>
<path d="M423.2 200.5C447.7 200.4 489.3 200.9 515.0 200.3C540.7 199.7 517.1 199.1 519.5 198.3C521.9 197.5 521.3 197.4 524.0 197.2C526.7 197.0 527.0 198.0 529.8 197.7C532.6 197.4 532.3 196.7 534.4 196.0C536.5 195.3 535.1 195.3 537.8 194.9C540.5 194.5 541.2 194.5 544.6 194.6C548.0 194.7 547.4 194.7 550.4 195.4C553.4 196.1 553.4 197.0 556.0 197.2C558.6 197.4 557.7 196.8 560.0 196.0C562.3 195.2 562.5 194.4 564.6 194.3C566.7 194.2 566.0 194.7 568.0 195.5C570.0 196.3 569.4 196.6 572.0 197.2C574.6 197.8 574.7 198.2 577.8 197.7C580.9 197.2 580.2 196.1 583.5 195.4C586.8 194.7 586.6 194.8 590.3 195.1C594.0 195.4 593.7 196.4 597.2 196.6C600.7 196.8 601.0 196.9 603.5 196.0C606.0 195.1 604.4 194.7 606.4 193.2C608.4 191.7 608.5 191.5 610.9 190.3C613.3 189.1 613.2 190.4 615.5 188.6C617.8 186.8 617.5 185.7 619.5 183.4C621.5 181.1 621.4 181.2 622.9 180.0C624.4 178.8 623.5 178.7 625.0 179.0C626.5 179.3 626.9 178.9 628.6 181.0C630.3 183.1 630.0 184.6 631.5 186.9C633.0 189.2 632.8 189.6 634.3 189.7C635.8 189.8 635.7 188.5 637.2 187.4C638.7 186.3 637.1 186.1 640.0 185.5C642.9 184.9 644.6 184.0 648.0 185.0C651.4 186.0 650.1 187.5 652.6 189.2C655.1 190.9 654.7 190.3 657.2 191.4C659.7 192.5 659.3 192.3 661.8 193.2C664.3 194.1 664.0 194.5 666.4 194.6C668.8 194.7 668.5 193.9 670.9 193.7C673.3 193.5 673.1 193.8 675.5 194.0C677.9 194.2 675.5 194.7 680.0 194.3C684.5 193.9 689.2 193.1 692.5 192.6" stroke="#4a6fe3" stroke-width=".9" fill="none" stroke-dasharray="4 1.4 1 1.4" stroke-linejoin="round"/>
<path d="M423.2 200.4C425.4 200.3 428.4 201.7 431.5 200.2C434.6 198.7 433.3 197.3 434.9 194.9C436.5 192.5 436.2 191.5 437.4 191.2C438.6 190.9 438.2 192.1 439.5 193.7C440.8 195.3 440.9 196.6 442.3 197.2C443.7 197.8 443.5 196.8 444.6 196.0C445.7 195.2 445.1 195.2 446.3 194.3C447.5 193.4 447.7 192.6 449.2 192.8C450.7 193.0 450.3 194.2 452.0 194.9C453.7 195.6 453.7 194.8 455.5 195.4C457.3 196.0 456.8 196.1 458.9 197.2C461.0 198.3 458.9 198.8 463.5 199.5C468.1 200.2 468.9 199.8 476.0 200.0C483.1 200.2 482.3 200.2 490.0 200.2C497.7 200.2 499.7 200.2 505.0 200.0C510.3 199.8 507.7 200.0 510.0 199.5C512.3 199.0 511.9 199.1 513.8 198.3C515.7 197.5 515.4 197.8 517.2 196.6C519.0 195.4 519.1 194.6 520.6 193.7C522.1 192.8 521.4 193.1 522.9 193.2C524.4 193.3 524.5 193.5 526.3 194.0C528.1 194.5 528.3 194.9 529.8 195.1C531.3 195.3 530.5 195.5 532.0 194.9C533.5 194.3 533.8 193.5 535.5 192.8C537.2 192.1 536.0 192.2 538.4 192.4C540.8 192.6 541.4 192.7 544.6 193.5C547.8 194.3 547.4 194.4 550.4 195.4C553.4 196.4 552.7 197.0 556.0 197.2C559.3 197.4 558.9 195.8 562.9 196.0C566.9 196.2 566.3 197.5 570.9 198.1C575.5 198.7 575.1 198.4 580.0 198.3C584.9 198.2 583.4 197.5 589.2 197.7C595.0 197.9 596.6 199.0 601.8 198.9C607.0 198.8 604.5 197.8 608.6 197.2C612.7 196.6 612.3 197.3 617.2 196.6C622.1 195.9 621.7 194.6 626.9 194.6C632.1 194.6 631.0 195.9 636.6 196.6C642.2 197.3 643.4 196.6 648.0 197.2C652.6 197.8 650.7 198.2 653.8 198.9C656.9 199.6 655.2 199.4 659.5 199.7C663.8 200.0 661.2 200.0 670.0 200.1C678.8 200.2 686.5 200.2 692.5 200.2" stroke="#ff2a2a" stroke-width=".9" fill="none" stroke-dasharray="4 1.4 1 1.4" stroke-linejoin="round"/>
<path d="M423.2 200.4C424.0 199.5 424.7 200.2 426.3 197.2C427.9 194.2 428.0 193.8 429.2 189.2C430.4 184.6 429.7 186.5 430.9 180.0C432.1 173.5 432.3 171.3 433.8 164.9C435.3 158.5 435.1 160.0 436.5 156.0C437.9 152.0 437.5 152.6 438.9 150.0C440.3 147.4 440.1 146.3 441.8 146.3C443.5 146.3 443.6 147.8 445.4 150.0C447.2 152.2 446.7 151.8 448.5 154.5C450.3 157.2 449.5 155.4 452.0 160.3C454.5 165.2 455.3 167.6 457.8 172.9C460.3 178.2 459.7 176.6 461.2 180.0C462.7 183.4 462.0 183.1 463.5 185.7C465.0 188.3 464.8 188.2 466.9 189.7C469.0 191.2 469.1 190.7 471.5 191.2C473.9 191.7 471.8 191.5 476.0 191.4C480.2 191.3 482.8 191.5 487.4 190.9C492.0 190.3 489.8 190.1 493.2 189.2C496.6 188.3 497.3 188.9 500.0 187.4C502.7 185.9 501.8 185.4 503.5 183.4C505.2 181.4 504.5 183.4 506.3 180.0C508.1 176.6 508.0 174.9 510.3 170.6C512.6 166.3 512.4 167.1 514.9 163.7C517.4 160.3 517.1 160.4 519.5 158.0C521.9 155.6 521.4 155.9 524.0 154.6C526.6 153.3 526.1 153.1 529.2 153.1C532.3 153.1 532.0 153.6 535.5 154.6C539.0 155.6 538.7 155.7 542.4 156.9C546.1 158.1 546.2 157.8 549.2 159.2C552.2 160.6 551.0 159.9 553.7 162.0C556.4 164.1 556.1 164.3 559.5 167.2C562.9 170.1 562.6 170.2 566.3 172.9C570.0 175.6 569.8 175.6 573.2 177.5C576.6 179.4 575.0 178.9 578.9 180.0C582.8 181.1 582.5 180.6 588.0 181.7C593.5 182.8 593.4 183.1 599.5 184.0C605.6 184.9 604.8 184.5 611.0 185.1C617.2 185.7 613.6 185.2 622.9 186.3C632.2 187.4 633.6 187.9 645.8 189.2C658.0 190.5 659.5 190.5 668.6 191.2C677.7 191.9 673.6 191.6 680.0 192.0C686.4 192.4 689.2 192.6 692.5 192.8" stroke="#ff4a4a" stroke-width=".75" fill="none" stroke-linejoin="round"/>
<path d="M423.2 200.5 L478.0 200.4 L482.3 198.6 L486.0 200.3 L692.5 200.4" stroke="#ff2a2a" stroke-width="1.15" fill="none" stroke-dasharray="3 1.4"/>
<path d="M406.18 166.3V205.3M406.51 169.1V204.0M406.83 167.5V202.0M407.16 168.0V202.1M407.48 169.8V203.5M407.81 169.2V202.5M408.14 166.6V199.5M408.46 169.1V201.7M408.79 166.2V198.4M409.11 165.3V197.1M409.44 166.0V200.5M409.76 168.5V197.5M410.09 169.8V196.3M410.42 166.6V199.1M410.74 166.2V198.9M411.07 168.5V197.2M411.39 169.4V191.6M411.72 169.3V190.2M412.04 167.9V189.5M412.37 164.5V190.0M412.70 161.6V191.6M413.02 161.8V192.6M413.35 162.2V190.9M413.67 161.5V193.4M414.00 158.0V192.6M414.32 160.9V185.7M414.65 161.6V181.9M414.98 163.0V185.2M415.30 162.0V188.4M415.63 160.8V186.8M415.95 159.9V187.1M416.28 158.3V184.7M416.60 155.9V184.7M416.93 154.6V185.8M417.26 157.7V179.5M417.58 157.8V182.3M417.91 153.7V180.9M418.23 154.3V176.5M418.56 158.0V174.8M418.88 159.6V178.6M419.21 160.8V176.3M419.54 157.7V179.1M419.86 158.1V178.4M420.19 155.6V180.3M420.51 156.5V179.9M420.84 154.3V180.5M421.16 156.8V177.9M421.49 153.7V173.6M422.08 150.4V175.1M422.67 156.5V175.2M423.26 156.2V172.7M423.84 155.2V172.8M424.43 154.9V168.4M425.02 153.4V168.6M425.61 149.4V170.1M426.20 151.1V171.8M426.79 148.2V168.7M427.37 151.8V166.6M427.96 151.7V170.6M428.55 148.2V168.2M429.14 150.6V165.3M429.73 151.8V168.1M430.32 153.5V167.1M430.90 154.3V166.1M431.49 155.2V164.7M432.08 155.9V165.3M432.67 156.7V165.0M433.26 152.9V166.6M433.85 151.6V163.3M434.43 150.0V161.3M435.02 146.8V160.9M435.61 145.0V161.1M436.20 144.0V155.3M436.79 143.9V152.8M437.38 138.9V150.8M437.97 138.3V147.6M438.55 137.6V147.4M439.14 134.1V142.1M439.73 130.6V139.4M440.32 128.1V139.5M440.91 129.6V138.9M441.50 127.2V135.9M442.08 128.4V137.5M442.67 128.7V139.1M443.26 126.4V137.5M443.85 126.7V138.8M444.44 127.8V140.0M445.03 126.3V138.3M445.61 129.7V139.9M446.20 134.3V142.1M446.79 136.0V143.7M447.38 135.1V145.1M447.97 135.9V148.4M448.56 134.9V148.8M449.14 138.8V149.3M449.73 139.5V148.3M450.32 140.3V150.4M450.91 141.2V153.1M451.50 142.1V153.6M452.09 140.3V152.4M452.68 142.6V155.2M453.26 143.2V155.1M453.85 144.2V152.8M454.44 142.5V152.0M455.03 142.3V152.7M455.62 146.5V154.8M456.21 144.3V152.6M456.79 148.9V155.2M457.38 149.1V156.7M457.97 150.4V158.1M458.56 152.5V160.6M459.15 155.1V162.3M459.74 156.5V161.6M460.32 160.4V164.2M460.91 162.9V167.3M461.50 163.3V168.9M462.09 163.5V169.5M462.68 167.3V171.9M463.27 168.8V172.7M463.85 170.5V175.0M464.44 171.7V175.3M465.03 172.9V177.8M465.62 173.1V177.9M466.21 174.8V180.3M466.80 174.4V179.3M467.38 177.3V182.0M467.97 177.7V182.1M468.56 178.9V182.5M469.15 181.2V184.5M469.74 180.7V184.5M470.33 181.1V184.8M470.92 180.7V184.7M471.50 181.2V184.5M472.09 182.1V186.1M472.68 182.9V187.6M473.27 184.2V188.7M473.86 182.7V187.9M474.45 183.7V188.3M475.03 183.9V188.4M475.62 184.1V188.9M476.21 184.2V188.7M476.80 185.0V190.3M477.39 184.2V189.9M477.98 183.7V188.1M478.56 182.8V187.8M479.15 184.0V187.9M479.74 185.6V188.7M480.33 185.6V188.7M480.92 185.3V189.5M481.51 184.0V189.0M482.09 183.6V188.5M482.68 184.0V187.8M483.27 184.2V187.6M483.86 180.5V185.2M484.45 180.0V185.4M485.04 181.9V187.4M485.63 183.3V188.1M486.21 185.2V189.3M486.80 185.9V190.4" stroke="#000" stroke-opacity=".9" stroke-width=".52" fill="none"/>
<path d="M406.2 185.8 L406.5 186.6 L406.8 184.7 L407.2 185.1 L407.5 186.6 L407.8 185.9 L408.1 183.1 L408.5 185.4 L408.8 182.3 L409.1 181.2 L409.4 183.2 L409.8 183.0 L410.1 183.1 L410.4 182.9 L410.7 182.5 L411.1 182.8 L411.4 180.5 L411.7 179.7 L412.0 178.7 L412.4 177.3 L412.7 176.6 L413.0 177.2 L413.3 176.5 L413.7 177.5 L414.0 175.3 L414.3 173.3 L414.7 171.8 L415.0 174.1 L415.3 175.2 L415.6 173.8 L416.0 173.5 L416.3 171.5 L416.6 170.3 L416.9 170.2 L417.3 168.6 L417.6 170.1 L417.9 167.3 L418.2 165.4 L418.6 166.4 L418.9 169.1 L419.2 168.6 L419.5 168.4 L419.9 168.2 L420.2 168.0 L420.5 168.2 L420.8 167.4 L421.2 167.4 L421.5 163.6 L422.1 162.8 L422.7 165.8 L423.3 164.4 L423.8 164.0 L424.4 161.7 L425.0 161.0 L425.6 159.8 L426.2 161.5 L426.8 158.5 L427.4 159.2 L428.0 161.1 L428.6 158.2 L429.1 157.9 L429.7 160.0 L430.3 160.3 L430.9 160.2 L431.5 159.9 L432.1 160.6 L432.7 160.8 L433.3 159.8 L433.8 157.4 L434.4 155.6 L435.0 153.9 L435.6 153.1 L436.2 149.6 L436.8 148.3 L437.4 144.8 L438.0 142.9 L438.6 142.5 L439.1 138.1 L439.7 135.0 L440.3 133.8 L440.9 134.3 L441.5 131.6 L442.1 133.0 L442.7 133.9 L443.3 131.9 L443.8 132.8 L444.4 133.9 L445.0 132.3 L445.6 134.8 L446.2 138.2 L446.8 139.8 L447.4 140.1 L448.0 142.2 L448.6 141.9 L449.1 144.1 L449.7 143.9 L450.3 145.3 L450.9 147.2 L451.5 147.8 L452.1 146.4 L452.7 148.9 L453.3 149.1 L453.9 148.5 L454.4 147.3 L455.0 147.5 L455.6 150.7 L456.2 148.4 L456.8 152.0 L457.4 152.9 L458.0 154.2 L458.6 156.6 L459.1 158.7 L459.7 159.1 L460.3 162.3 L460.9 165.1 L461.5 166.1 L462.1 166.5 L462.7 169.6 L463.3 170.8 L463.9 172.7 L464.4 173.5 L465.0 175.4 L465.6 175.5 L466.2 177.6 L466.8 176.9 L467.4 179.7 L468.0 179.9 L468.6 180.7 L469.2 182.8 L469.7 182.6 L470.3 182.9 L470.9 182.7 L471.5 182.8 L472.1 184.1 L472.7 185.3 L473.3 186.4 L473.9 185.3 L474.4 186.0 L475.0 186.2 L475.6 186.5 L476.2 186.5 L476.8 187.6 L477.4 187.1 L478.0 185.9 L478.6 185.3 L479.2 185.9 L479.7 187.1 L480.3 187.2 L480.9 187.4 L481.5 186.5 L482.1 186.1 L482.7 185.9 L483.3 185.9 L483.9 182.8 L484.4 182.7 L485.0 184.6 L485.6 185.7 L486.2 187.3 L486.8 188.2" stroke="#000" stroke-width=".9" fill="none" stroke-linejoin="round"/>
<path d="M487.3 188.8 L487.9 190.8 L488.5 191.5 L489.1 193.6 L489.7 193.8 L490.4 195.8 L491.1 197.6 L491.8 198.1 L492.5 198.8 L493.2 199.2 L493.9 199.6 L494.4 198.6 L495.0 199.6 L495.5 198.2 L496.0 198.2 L496.5 198.8 L497.1 199.0 L497.6 199.3 L498.1 201.0 L498.6 199.9 L499.2 199.3 L499.7 199.3 L500.2 198.4 L500.7 197.8 L501.3 197.3 L501.8 196.2 L502.3 195.1 L503.1 194.1 L503.8 192.7 L504.5 191.4 L505.3 189.9 L505.9 188.4 L506.6 188.1 L507.3 187.1 L508.0 185.0 L508.7 184.0 L509.5 181.9 L510.2 182.3 L510.9 180.2 L511.5 178.5 L512.0 178.3 L512.5 177.3 L513.1 175.8 L513.7 174.2 L514.3 171.3 L514.9 167.8 L515.5 165.3 L516.1 162.4 L517.2 155.5 L519.1 144.8 L520.0 132.5 L521.3 121.0 L522.7 109.5 L523.9 98.1 L525.1 86.6 L526.5 75.1 L527.4 65.9 L528.3 59.1 L529.1 61.3 L530.5 63.0 L531.4 75.1 L532.1 86.6 L532.7 98.1 L532.9 109.5 L534.4 121.0 L535.9 132.5 L536.5 146.3 L537.1 155.5 L540.7 163.2 L544.9 170.0 L548.6 158.1 L549.7 153.2 L551.9 148.8 L553.3 151.4 L555.2 158.1 L557.0 150.1 L558.1 141.3 L560.0 137.9 L561.2 132.5 L562.9 121.0 L564.7 109.5 L565.5 105.7 L568.4 100.4 L569.5 90.4 L570.1 83.8 L571.7 78.1 L573.8 81.2 L574.9 87.8 L577.0 89.6 L578.5 93.9 L579.1 98.1 L581.0 109.5 L581.6 113.4 L584.2 125.6 L585.2 132.5 L588.3 147.5 L589.4 155.5 L591.3 167.0 L593.1 171.7 L595.5 173.0 L597.9 178.5 L599.1 184.6 L602.1 193.4 L603.9 189.4 L605.5 184.6 L606.9 186.8 L608.8 183.8 L610.5 183.8 L612.3 179.8 L614.1 170.4 L615.9 162.6 L618.3 156.8 L620.7 157.7 L622.5 156.8 L623.7 155.5 L627.1 150.1 L630.3 151.8 L632.1 155.5 L634.0 165.2 L635.8 169.5 L636.9 172.1 L640.0 169.5 L641.7 171.3 L644.2 178.5 L646.6 182.9 L648.4 186.8 L651.4 187.2 L653.5 184.6 L655.0 189.9 L657.0 196.7 L658.6 195.6 L660.3 183.8 L662.1 178.5 L664.5 174.3 L665.3 176.2 L667.0 169.1 L669.4 165.6 L670.5 168.7 L672.3 158.1 L674.4 155.5 L677.2 150.1 L678.9 144.8 L680.2 136.0 L682.0 134.4 L683.8 147.5 L685.6 151.8 L687.1 144.3 L688.8 155.5 L690.4 168.7 L692.2 160.8" stroke="#222" stroke-width=".55" fill="none" stroke-linejoin="round"/>
<path d="M487.3 187.1V190.5M487.9 189.1V192.5M488.5 189.8V193.2M489.1 191.9V195.3M489.7 192.1V195.5M490.4 194.2V197.5M491.1 196.0V199.3M491.8 196.4V199.8M492.5 197.1V200.5M493.2 197.5V200.9M493.9 197.9V201.2M494.4 196.9V200.3M495.0 197.9V201.3M495.5 196.6V199.9M496.0 196.6V199.9M496.5 197.1V200.5M497.1 197.3V200.7M497.6 197.6V201.0M498.1 199.3V202.7M498.6 198.2V201.6M499.2 197.6V201.0M499.7 197.6V201.0M500.2 196.7V200.1M500.7 196.1V199.4M501.3 195.6V198.9M501.8 194.5V197.8M502.3 193.4V196.8M503.1 192.4V195.8M503.8 191.0V194.3M504.5 189.7V193.1M505.3 188.2V191.6M505.9 186.7V190.1M506.6 186.4V189.7M507.3 185.4V188.8M508.0 183.3V186.7M508.7 182.4V185.7M509.5 180.2V183.6M510.2 180.6V183.9M510.9 178.5V181.9M511.5 176.8V180.2M512.0 176.6V179.9M512.5 175.7V179.0M513.1 174.1V177.4M513.7 172.5V175.9M514.3 169.6V173.0M514.9 166.2V169.5M515.5 164.6V165.9M516.1 161.7V163.1M517.2 154.8V156.2M518.2 149.5V150.8M519.1 144.1V145.5M519.6 138.0V139.3M520.0 131.8V133.2M520.7 126.1V127.5M521.3 120.3V121.7M522.0 114.6V116.0M522.7 108.9V110.2M523.3 103.1V104.5M523.9 97.4V98.7M524.5 91.6V93.0M525.1 85.9V87.3M525.8 80.1V81.5M526.5 74.4V75.8M527.0 69.8V71.2M527.4 65.2V66.6M528.3 58.5V59.8M529.1 60.6V62.0M530.5 62.4V63.7M531.0 68.4V69.8M531.4 74.4V75.8M531.7 80.1V81.5M532.1 85.9V87.3M532.4 91.6V93.0M532.7 97.4V98.7M532.8 103.1V104.5M532.9 108.9V110.2M533.6 114.6V116.0M534.4 120.3V121.7M535.2 126.1V127.5M535.9 131.8V133.2M536.2 138.7V140.1M536.5 145.6V147.0M536.8 150.2V151.6M537.1 154.8V156.2M540.7 162.5V163.9M544.9 169.3V170.7M546.7 163.4V164.7M548.6 157.4V158.8M549.7 152.5V153.9M551.9 148.1V149.5M553.3 150.7V152.1M555.2 157.4V158.8M557.0 149.5V150.8M557.5 145.0V146.4M558.1 140.6V141.9M560.0 137.2V138.6M561.2 131.8V133.2M562.1 126.1V127.5M562.9 120.3V121.7M563.8 114.6V116.0M564.7 108.9V110.2M565.5 105.0V106.4M568.4 99.7V101.0M568.9 94.7V96.1M569.5 89.7V91.1M570.1 83.1V84.5M571.7 77.5V78.8M573.8 80.5V81.9M574.9 87.1V88.5M577.0 88.9V90.2M578.5 93.2V94.6M579.1 97.4V98.7M580.1 103.1V104.5M581.0 108.9V110.2M581.6 112.7V114.1M582.9 118.8V120.2M584.2 124.9V126.3M585.2 131.8V133.2M586.7 139.3V140.7M588.3 146.8V148.2M589.4 154.8V156.2M590.4 160.6V161.9M591.3 166.3V167.7M593.1 171.1V172.4M595.5 172.4V173.7M597.9 177.8V179.2M599.1 183.9V185.3M600.6 188.3V189.7M602.1 192.7V194.1M603.9 188.8V190.1M605.5 183.9V185.3M606.9 186.1V187.5M608.8 183.1V184.5M610.5 183.1V184.5M612.3 179.1V180.5M613.2 174.4V175.8M614.1 169.8V171.1M615.9 161.9V163.2M618.3 156.1V157.5M620.7 157.0V158.4M622.5 156.1V157.5M623.7 154.8V156.2M627.1 149.4V150.8M630.3 151.1V152.5M632.1 154.8V156.2M633.0 159.6V161.0M634.0 164.5V165.8M635.8 168.8V170.2M636.9 171.4V172.8M640.0 168.8V170.2M641.7 170.6V172.0M644.2 177.8V179.2M646.6 182.2V183.5M648.4 186.1V187.5M651.4 186.5V187.9M653.5 183.9V185.3M655.0 189.2V190.6M657.0 196.0V197.4M658.6 194.9V196.3M659.5 189.0V190.4M660.3 183.1V184.5M662.1 177.8V179.2M664.5 173.7V175.0M665.3 175.5V176.9M667.0 168.4V169.8M669.4 164.9V166.3M670.5 168.0V169.4M671.4 162.7V164.1M672.3 157.4V158.8M674.4 154.8V156.2M677.2 149.4V150.8M678.9 144.1V145.5M679.6 139.7V141.1M680.2 135.4V136.7M682.0 133.8V135.1M682.9 140.3V141.6M683.8 146.8V148.2M685.6 151.1V152.5M687.1 143.6V145.0M688.0 149.2V150.6M688.8 154.8V156.2M689.6 161.4V162.8M690.4 168.0V169.4M692.2 160.1V161.5" stroke="#000" stroke-opacity=".5" stroke-width=".45" fill="none"/>
<g fill="#000" fill-opacity=".65"><circle cx="487.3" cy="188.8" r=".58"/><circle cx="487.9" cy="190.8" r=".58"/><circle cx="488.5" cy="191.5" r=".58"/><circle cx="489.1" cy="193.6" r=".58"/><circle cx="489.7" cy="193.8" r=".58"/><circle cx="490.4" cy="195.8" r=".58"/><circle cx="491.1" cy="197.6" r=".58"/><circle cx="491.8" cy="198.1" r=".58"/><circle cx="492.5" cy="198.8" r=".58"/><circle cx="493.2" cy="199.2" r=".58"/><circle cx="493.9" cy="199.6" r=".58"/><circle cx="494.4" cy="198.6" r=".58"/><circle cx="495.0" cy="199.6" r=".58"/><circle cx="495.5" cy="198.2" r=".58"/><circle cx="496.0" cy="198.2" r=".58"/><circle cx="496.5" cy="198.8" r=".58"/><circle cx="497.1" cy="199.0" r=".58"/><circle cx="497.6" cy="199.3" r=".58"/><circle cx="498.1" cy="201.0" r=".58"/><circle cx="498.6" cy="199.9" r=".58"/><circle cx="499.2" cy="199.3" r=".58"/><circle cx="499.7" cy="199.3" r=".58"/><circle cx="500.2" cy="198.4" r=".58"/><circle cx="500.7" cy="197.8" r=".58"/><circle cx="501.3" cy="197.3" r=".58"/><circle cx="501.8" cy="196.2" r=".58"/><circle cx="502.3" cy="195.1" r=".58"/><circle cx="503.1" cy="194.1" r=".58"/><circle cx="503.8" cy="192.7" r=".58"/><circle cx="504.5" cy="191.4" r=".58"/><circle cx="505.3" cy="189.9" r=".58"/><circle cx="505.9" cy="188.4" r=".58"/><circle cx="506.6" cy="188.1" r=".58"/><circle cx="507.3" cy="187.1" r=".58"/><circle cx="508.0" cy="185.0" r=".58"/><circle cx="508.7" cy="184.0" r=".58"/><circle cx="509.5" cy="181.9" r=".58"/><circle cx="510.2" cy="182.3" r=".58"/><circle cx="510.9" cy="180.2" r=".58"/><circle cx="511.5" cy="178.5" r=".58"/><circle cx="512.0" cy="178.3" r=".58"/><circle cx="512.5" cy="177.3" r=".58"/><circle cx="513.1" cy="175.8" r=".58"/><circle cx="513.7" cy="174.2" r=".58"/><circle cx="514.3" cy="171.3" r=".58"/><circle cx="514.9" cy="167.8" r=".58"/><circle cx="515.5" cy="165.3" r=".58"/><circle cx="516.1" cy="162.4" r=".58"/><circle cx="517.2" cy="155.5" r=".58"/><circle cx="518.2" cy="150.1" r=".58"/><circle cx="519.1" cy="144.8" r=".58"/><circle cx="519.6" cy="138.7" r=".58"/><circle cx="520.0" cy="132.5" r=".58"/><circle cx="520.7" cy="126.8" r=".58"/><circle cx="521.3" cy="121.0" r=".58"/><circle cx="522.0" cy="115.3" r=".58"/><circle cx="522.7" cy="109.5" r=".58"/><circle cx="523.3" cy="103.8" r=".58"/><circle cx="523.9" cy="98.1" r=".58"/><circle cx="524.5" cy="92.3" r=".58"/><circle cx="525.1" cy="86.6" r=".58"/><circle cx="525.8" cy="80.8" r=".58"/><circle cx="526.5" cy="75.1" r=".58"/><circle cx="527.0" cy="70.5" r=".58"/><circle cx="527.4" cy="65.9" r=".58"/><circle cx="528.3" cy="59.1" r=".58"/><circle cx="529.1" cy="61.3" r=".58"/><circle cx="530.5" cy="63.0" r=".58"/><circle cx="531.0" cy="69.1" r=".58"/><circle cx="531.4" cy="75.1" r=".58"/><circle cx="531.7" cy="80.8" r=".58"/><circle cx="532.1" cy="86.6" r=".58"/><circle cx="532.4" cy="92.3" r=".58"/><circle cx="532.7" cy="98.1" r=".58"/><circle cx="532.8" cy="103.8" r=".58"/><circle cx="532.9" cy="109.5" r=".58"/><circle cx="533.6" cy="115.3" r=".58"/><circle cx="534.4" cy="121.0" r=".58"/><circle cx="535.2" cy="126.8" r=".58"/><circle cx="535.9" cy="132.5" r=".58"/><circle cx="536.2" cy="139.4" r=".58"/><circle cx="536.5" cy="146.3" r=".58"/><circle cx="536.8" cy="150.9" r=".58"/><circle cx="537.1" cy="155.5" r=".58"/><circle cx="540.7" cy="163.2" r=".58"/><circle cx="544.9" cy="170.0" r=".58"/><circle cx="546.7" cy="164.0" r=".58"/><circle cx="548.6" cy="158.1" r=".58"/><circle cx="549.7" cy="153.2" r=".58"/><circle cx="551.9" cy="148.8" r=".58"/><circle cx="553.3" cy="151.4" r=".58"/><circle cx="555.2" cy="158.1" r=".58"/><circle cx="557.0" cy="150.1" r=".58"/><circle cx="557.5" cy="145.7" r=".58"/><circle cx="558.1" cy="141.3" r=".58"/><circle cx="560.0" cy="137.9" r=".58"/><circle cx="561.2" cy="132.5" r=".58"/><circle cx="562.1" cy="126.8" r=".58"/><circle cx="562.9" cy="121.0" r=".58"/><circle cx="563.8" cy="115.3" r=".58"/><circle cx="564.7" cy="109.5" r=".58"/><circle cx="565.5" cy="105.7" r=".58"/><circle cx="568.4" cy="100.4" r=".58"/><circle cx="568.9" cy="95.4" r=".58"/><circle cx="569.5" cy="90.4" r=".58"/><circle cx="570.1" cy="83.8" r=".58"/><circle cx="571.7" cy="78.1" r=".58"/><circle cx="573.8" cy="81.2" r=".58"/><circle cx="574.9" cy="87.8" r=".58"/><circle cx="577.0" cy="89.6" r=".58"/><circle cx="578.5" cy="93.9" r=".58"/><circle cx="579.1" cy="98.1" r=".58"/><circle cx="580.1" cy="103.8" r=".58"/><circle cx="581.0" cy="109.5" r=".58"/><circle cx="581.6" cy="113.4" r=".58"/><circle cx="582.9" cy="119.5" r=".58"/><circle cx="584.2" cy="125.6" r=".58"/><circle cx="585.2" cy="132.5" r=".58"/><circle cx="586.7" cy="140.0" r=".58"/><circle cx="588.3" cy="147.5" r=".58"/><circle cx="589.4" cy="155.5" r=".58"/><circle cx="590.4" cy="161.3" r=".58"/><circle cx="591.3" cy="167.0" r=".58"/><circle cx="593.1" cy="171.7" r=".58"/><circle cx="595.5" cy="173.0" r=".58"/><circle cx="597.9" cy="178.5" r=".58"/><circle cx="599.1" cy="184.6" r=".58"/><circle cx="600.6" cy="189.0" r=".58"/><circle cx="602.1" cy="193.4" r=".58"/><circle cx="603.9" cy="189.4" r=".58"/><circle cx="605.5" cy="184.6" r=".58"/><circle cx="606.9" cy="186.8" r=".58"/><circle cx="608.8" cy="183.8" r=".58"/><circle cx="610.5" cy="183.8" r=".58"/><circle cx="612.3" cy="179.8" r=".58"/><circle cx="613.2" cy="175.1" r=".58"/><circle cx="614.1" cy="170.4" r=".58"/><circle cx="615.9" cy="162.6" r=".58"/><circle cx="618.3" cy="156.8" r=".58"/><circle cx="620.7" cy="157.7" r=".58"/><circle cx="622.5" cy="156.8" r=".58"/><circle cx="623.7" cy="155.5" r=".58"/><circle cx="627.1" cy="150.1" r=".58"/><circle cx="630.3" cy="151.8" r=".58"/><circle cx="632.1" cy="155.5" r=".58"/><circle cx="633.0" cy="160.3" r=".58"/><circle cx="634.0" cy="165.2" r=".58"/><circle cx="635.8" cy="169.5" r=".58"/><circle cx="636.9" cy="172.1" r=".58"/><circle cx="640.0" cy="169.5" r=".58"/><circle cx="641.7" cy="171.3" r=".58"/><circle cx="644.2" cy="178.5" r=".58"/><circle cx="646.6" cy="182.9" r=".58"/><circle cx="648.4" cy="186.8" r=".58"/><circle cx="651.4" cy="187.2" r=".58"/><circle cx="653.5" cy="184.6" r=".58"/><circle cx="655.0" cy="189.9" r=".58"/><circle cx="657.0" cy="196.7" r=".58"/><circle cx="658.6" cy="195.6" r=".58"/><circle cx="659.5" cy="189.7" r=".58"/><circle cx="660.3" cy="183.8" r=".58"/><circle cx="662.1" cy="178.5" r=".58"/><circle cx="664.5" cy="174.3" r=".58"/><circle cx="665.3" cy="176.2" r=".58"/><circle cx="667.0" cy="169.1" r=".58"/><circle cx="669.4" cy="165.6" r=".58"/><circle cx="670.5" cy="168.7" r=".58"/><circle cx="671.4" cy="163.4" r=".58"/><circle cx="672.3" cy="158.1" r=".58"/><circle cx="674.4" cy="155.5" r=".58"/><circle cx="677.2" cy="150.1" r=".58"/><circle cx="678.9" cy="144.8" r=".58"/><circle cx="679.6" cy="140.4" r=".58"/><circle cx="680.2" cy="136.0" r=".58"/><circle cx="682.0" cy="134.4" r=".58"/><circle cx="682.9" cy="141.0" r=".58"/><circle cx="683.8" cy="147.5" r=".58"/><circle cx="685.6" cy="151.8" r=".58"/><circle cx="687.1" cy="144.3" r=".58"/><circle cx="688.0" cy="149.9" r=".58"/><circle cx="688.8" cy="155.5" r=".58"/><circle cx="689.6" cy="162.1" r=".58"/><circle cx="690.4" cy="168.7" r=".58"/><circle cx="692.2" cy="160.8" r=".58"/></g>
</g>
<rect x="36.5" y="13.6" width="282.0" height="217.0" fill="none" stroke="#9c9c9c" stroke-width="1.1"/>
<rect x="396.2" y="12.4" width="296.4" height="219.3" fill="none" stroke="#9c9c9c" stroke-width="1.1"/>
<path d="M36.5 231.0v1.7M396.2 232.1v1.7M83.5 231.0v1.7M445.6 232.1v1.7M177.5 231.0v1.7M544.4 232.1v1.7M318.5 231.0v1.7M692.5 232.1v1.7M36.1 200.8h-1.7M36.1 127.2h-1.7M36.1 45.4h-1.7M395.8 200.7h-1.7M395.8 138.0h-1.7M395.8 75.4h-1.7" stroke="#666" stroke-width=".6" fill="none"/>
<text x="177.3" y="10.4" font-size="12.20" text-anchor="middle" textLength="108.4" lengthAdjust="spacingAndGlyphs" >Grain shape: CDE1</text>
<text x="543.8" y="9.7" font-size="12.40" text-anchor="middle" textLength="110.4" lengthAdjust="spacingAndGlyphs" >Grain shape: CDE1</text>
<text x="36.5" y="242.8" font-size="11.50" text-anchor="middle" textLength="6.6" lengthAdjust="spacingAndGlyphs" >5</text>
<text x="396.2" y="244.8" font-size="11.70" text-anchor="middle" textLength="6.9" lengthAdjust="spacingAndGlyphs" >5</text>
<text x="83.5" y="242.8" font-size="11.50" text-anchor="middle" textLength="13.4" lengthAdjust="spacingAndGlyphs" >10</text>
<text x="445.6" y="244.8" font-size="11.70" text-anchor="middle" textLength="13.7" lengthAdjust="spacingAndGlyphs" >10</text>
<text x="177.5" y="242.8" font-size="11.50" text-anchor="middle" textLength="13.4" lengthAdjust="spacingAndGlyphs" >20</text>
<text x="544.4" y="244.8" font-size="11.70" text-anchor="middle" textLength="13.7" lengthAdjust="spacingAndGlyphs" >20</text>
<text x="318.5" y="242.8" font-size="11.50" text-anchor="middle" textLength="13.6" lengthAdjust="spacingAndGlyphs" >35</text>
<text x="692.5" y="244.8" font-size="11.70" text-anchor="middle" textLength="13.9" lengthAdjust="spacingAndGlyphs" >35</text>
<text x="32.4" y="204.9" font-size="11.50" text-anchor="end" textLength="16.8" lengthAdjust="spacingAndGlyphs" >0.1</text>
<text x="32.4" y="131.3" font-size="11.50" text-anchor="end" textLength="6.4" lengthAdjust="spacingAndGlyphs" >1</text>
<text x="32.4" y="49.5" font-size="11.50" text-anchor="end" textLength="6.4" lengthAdjust="spacingAndGlyphs" >2</text>
<text x="392.4" y="204.9" font-size="11.70" text-anchor="end" textLength="6.6" lengthAdjust="spacingAndGlyphs" >0</text>
<text x="392.4" y="142.2" font-size="11.70" text-anchor="end" textLength="6.6" lengthAdjust="spacingAndGlyphs" >1</text>
<text x="392.4" y="79.6" font-size="11.70" text-anchor="end" textLength="6.6" lengthAdjust="spacingAndGlyphs" >2</text>
<text x="177.5" y="256.5" font-size="12.20" text-anchor="middle" textLength="99.0" lengthAdjust="spacingAndGlyphs">Wavelength [<tspan font-style="italic">µ</tspan>m]</text>
<text x="544.3" y="258.9" font-size="12.40" text-anchor="middle" textLength="101.0" lengthAdjust="spacingAndGlyphs">Wavelength [<tspan font-style="italic">µ</tspan>m]</text>
<text transform="translate(10.5 145.6) rotate(-90)" font-size="12.2" textLength="46.8" lengthAdjust="spacingAndGlyphs">Flux [Jy]</text>
<text transform="translate(380.4 145.6) rotate(-90)" font-size="12.4" textLength="46.8" lengthAdjust="spacingAndGlyphs">Flux [Jy]</text>
<rect x="230.8" y="16.9" width="84.4" height="21.1" rx="1.2" fill="#fff" fill-opacity=".8" stroke="#d2d2d2" stroke-width=".7"/>
<path d="M233.3 22.3H246.9" stroke="#ff7f0e" stroke-width=".95"/>
<path d="M233.3 31.9H246.9" stroke="#333" stroke-width=".7"/><path d="M240.2 29V35" stroke="#333" stroke-width=".6"/><circle cx="240.2" cy="31.9" r=".7"/>
<text x="252.1" y="24.7" font-size="6.90" text-anchor="start" textLength="28.3" lengthAdjust="spacingAndGlyphs" >Model Fit</text>
<text x="252.1" y="34.3" font-size="6.90" text-anchor="start" textLength="59.8" lengthAdjust="spacingAndGlyphs" >Optimal Extraction</text>
<rect x="554.2" y="15.5" width="135.6" height="60.8" rx="1.2" fill="#fff" fill-opacity=".8" stroke="#d2d2d2" stroke-width=".7"/>
<path d="M556 21.4H569.8" stroke="#4a6fe3" stroke-width="0.90" stroke-dasharray="2.4 1.4"/>
<path d="M556 31.4H569.8" stroke="#ff2a2a" stroke-width="1.10" stroke-dasharray="2.4 1.4"/>
<path d="M556 41.3H569.8" stroke="#4a6fe3" stroke-width="0.90" stroke-dasharray="3.6 1.4 1 1.4"/>
<path d="M556 51.2H569.8" stroke="#ff2a2a" stroke-width="0.90" stroke-dasharray="3.6 1.4 1 1.4"/>
<path d="M556 61.1H569.8" stroke="#ff4a4a" stroke-width="0.70"/>
<path d="M556 71H569.8" stroke="#333" stroke-width=".7"/><path d="M562.9 68V74" stroke="#333" stroke-width=".6"/><circle cx="562.9" cy="71" r=".7"/>
<text x="574.8" y="23.8" font-size="7.00" text-anchor="start" textLength="72.9" lengthAdjust="spacingAndGlyphs" >Cool forsterite (100 K)</text>
<text x="574.8" y="33.8" font-size="7.00" text-anchor="start" textLength="77.4" lengthAdjust="spacingAndGlyphs" >Warm forsterite (300 K)</text>
<text x="574.8" y="43.7" font-size="7.00" text-anchor="start" textLength="72.0" lengthAdjust="spacingAndGlyphs" >Cool Enstatite (100 K)</text>
<text x="574.8" y="53.6" font-size="7.00" text-anchor="start" textLength="76.6" lengthAdjust="spacingAndGlyphs" >Warm Enstatite (300 K)</text>
<text x="574.8" y="63.5" font-size="7.00" text-anchor="start" textLength="111.6" lengthAdjust="spacingAndGlyphs" >Warm Small Amorphous Pyroxene</text>
<text x="574.8" y="73.4" font-size="7.00" text-anchor="start" textLength="61.8" lengthAdjust="spacingAndGlyphs" >Optimal Extraction</text>
</svg>
</body></html>
